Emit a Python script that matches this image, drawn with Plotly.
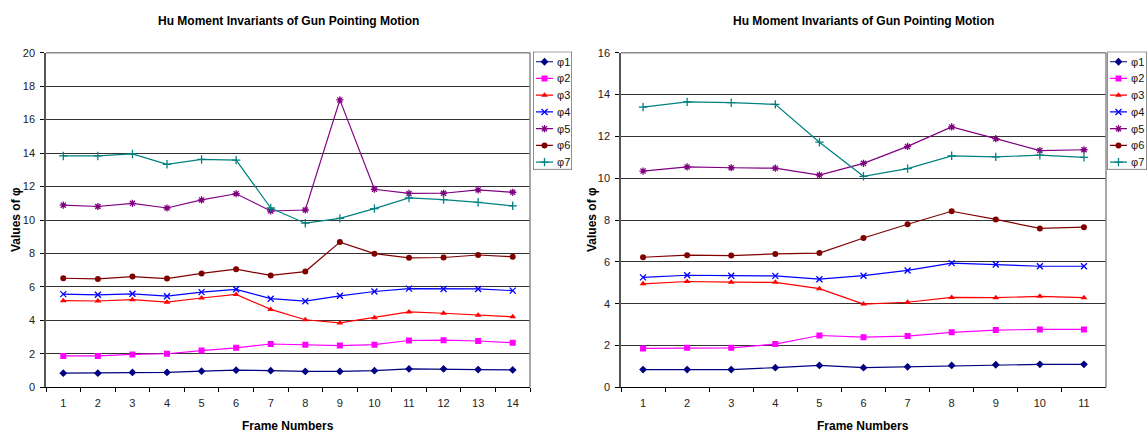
import plotly.graph_objects as go

W, H = 1148, 442

# Frame labels for the two recordings
frames_a = [str(i) for i in range(1, 15)]
frames_b = [str(i) for i in range(1, 12)]

# Hu moment invariants, first recording (14 frames)
phi1_a = [0.85, 0.85, 0.89, 0.89, 0.97, 1.03, 1.00, 0.95, 0.95, 1.00, 1.10, 1.10, 1.06, 1.04]
phi2_a = [1.88, 1.88, 1.97, 2.01, 2.20, 2.36, 2.59, 2.55, 2.50, 2.55, 2.80, 2.82, 2.77, 2.67]
phi3_a = [5.18, 5.16, 5.24, 5.09, 5.34, 5.55, 4.66, 4.04, 3.85, 4.16, 4.51, 4.43, 4.31, 4.22]
phi4_a = [5.57, 5.53, 5.59, 5.45, 5.69, 5.86, 5.30, 5.15, 5.47, 5.73, 5.90, 5.88, 5.88, 5.78]
phi5_a = [10.89, 10.81, 11.00, 10.72, 11.20, 11.57, 10.54, 10.60, 17.18, 11.84, 11.59, 11.60, 11.80, 11.66]
phi6_a = [6.52, 6.48, 6.62, 6.50, 6.81, 7.06, 6.69, 6.92, 8.68, 7.99, 7.74, 7.76, 7.91, 7.81]
phi7_a = [13.83, 13.83, 13.95, 13.33, 13.62, 13.58, 10.72, 9.81, 10.10, 10.68, 11.32, 11.22, 11.06, 10.85]

# Hu moment invariants, second recording (11 frames)
phi1_b = [0.85, 0.85, 0.85, 0.94, 1.05, 0.94, 0.98, 1.05, 1.08, 1.10, 1.10]
phi2_b = [1.86, 1.89, 1.89, 2.07, 2.48, 2.40, 2.45, 2.63, 2.74, 2.77, 2.77]
phi3_b = [4.95, 5.06, 5.03, 5.02, 4.72, 3.98, 4.07, 4.30, 4.29, 4.35, 4.29]
phi4_b = [5.26, 5.36, 5.34, 5.33, 5.17, 5.34, 5.59, 5.94, 5.87, 5.79, 5.79]
phi5_b = [10.34, 10.54, 10.50, 10.48, 10.15, 10.71, 11.52, 12.45, 11.89, 11.32, 11.36]
phi6_b = [6.22, 6.32, 6.30, 6.38, 6.42, 7.14, 7.80, 8.42, 8.03, 7.60, 7.66]
phi7_b = [13.40, 13.65, 13.61, 13.53, 11.72, 10.09, 10.46, 11.07, 11.02, 11.10, 11.00]

series_names = ["φ1", "φ2", "φ3", "φ4", "φ5", "φ6", "φ7"]
series_colors = ["#000080", "#FF00FF", "#FF0000", "#0000FF", "#800080", "#800000", "#008080"]
series_symbols = ["diamond", "square", "triangle-up", "x-thin", "asterisk-open", "circle", "cross-thin"]
series_sizes = [6, 6, 6, 6, 6, 6, 6]

data_a = [phi1_a, phi2_a, phi3_a, phi4_a, phi5_a, phi6_a, phi7_a]
data_b = [phi1_b, phi2_b, phi3_b, phi4_b, phi5_b, phi6_b, phi7_b]

FONT = "Arial, 'Liberation Sans', sans-serif"


def marker_style(k):
    sym = series_symbols[k]
    col = series_colors[k]
    open_sym = sym in ("x-thin", "asterisk-open", "cross-thin")
    return dict(symbol=sym, size=series_sizes[k], color=col,
                line=dict(color=col, width=1.3 if open_sym else 0))


fig = go.Figure()

# Data series on both panels
for k in range(7):
    fig.add_trace(go.Scatter(x=frames_a, y=data_a[k], name=series_names[k], mode="lines+markers",
                             line=dict(color=series_colors[k], width=1.2), marker=marker_style(k),
                             xaxis="x", yaxis="y", showlegend=False))
    fig.add_trace(go.Scatter(x=frames_b, y=data_b[k], name=series_names[k], mode="lines+markers",
                             line=dict(color=series_colors[k], width=1.2), marker=marker_style(k),
                             xaxis="x2", yaxis="y2", showlegend=False))

# Legend boxes, drawn in small pixel-scaled overlay axes
legend_boxes = [("x3", "y3", 533, 572), ("x4", "y4", 1107, 1147)]
for xr, yr, bx0, bx1 in legend_boxes:
    for k in range(7):
        yy = 57.3 + 17.2 * k
        fig.add_trace(go.Scatter(x=[bx0 + 3, bx0 + 20], y=[yy, yy], mode="lines",
                                 line=dict(color=series_colors[k], width=1.2),
                                 xaxis=xr, yaxis=yr, showlegend=False, hoverinfo="skip"))
        fig.add_trace(go.Scatter(x=[bx0 + 11.5], y=[yy], mode="markers", marker=marker_style(k),
                                 xaxis=xr, yaxis=yr, showlegend=False, hoverinfo="skip"))
        fig.add_annotation(x=bx0 + 21.5, y=yy, xref=xr, yref=yr, text=series_names[k],
                           showarrow=False, xanchor="left", yanchor="middle",
                           font=dict(family=FONT, size=11, color="#111"))
    fig.add_shape(type="rect", xref=xr, yref=yr, x0=bx0, x1=bx1, y0=47, y1=168,
                  line=dict(color="#222", width=1), fillcolor="rgba(0,0,0,0)", layer="below")

plot_top, plot_bot = 48, 392
ydom = [(H - plot_bot) / H, (H - plot_top) / H]


def xaxis_cfg(x0, x1, n, anchor):
    return dict(domain=[x0 / W, x1 / W], type="category", range=[-0.5, n - 0.5],
                tickson="boundaries", ticks="outside", ticklen=4, tickcolor="#000",
                showline=True, linecolor="#000", linewidth=1, showgrid=False,
                ticklabelstandoff=5,
                tickfont=dict(family=FONT, size=11, color="#222"), anchor=anchor,
                fixedrange=True)


def yaxis_cfg(top, anchor):
    return dict(domain=ydom, range=[0, top], dtick=2, ticks="outside", ticklen=4,
                tickcolor="#000", showline=True, linecolor="#555", linewidth=1.5,
                showgrid=True, gridcolor="#333", gridwidth=1.2, zeroline=False,
                ticklabelstandoff=3,
                tickfont=dict(family=FONT, size=11, color="#222"), anchor=anchor,
                fixedrange=True)


def legend_axes(x0, x1):
    xa = dict(domain=[x0 / W, x1 / W], range=[x0, x1], visible=False, fixedrange=True)
    ya = dict(domain=[(H - 168) / H, (H - 47) / H], range=[168, 47], visible=False, fixedrange=True)
    return xa, ya


xa3, ya3 = legend_axes(533, 572)
xa4, ya4 = legend_axes(1107, 1147)
xa3["anchor"], ya3["anchor"] = "y3", "x3"
xa4["anchor"], ya4["anchor"] = "y4", "x4"

fig.update_layout(
    width=W, height=H, margin=dict(l=0, r=0, t=0, b=0),
    paper_bgcolor="white", plot_bgcolor="white",
    font=dict(family=FONT, color="#111"),
    xaxis=xaxis_cfg(46, 530, 14, "y"),
    yaxis=yaxis_cfg(20, "x"),
    xaxis2=xaxis_cfg(621, 1106, 11, "y2"),
    yaxis2=yaxis_cfg(16, "x2"),
    xaxis3=xa3, yaxis3=ya3, xaxis4=xa4, yaxis4=ya4,
)

# Grey plot-area frame (top and right edges)
for xr, yr in (("x domain", "y domain"), ("x2 domain", "y2 domain")):
    fig.add_shape(type="line", xref=xr, yref=yr, x0=0, x1=1, y0=1, y1=1,
                  line=dict(color="#8a8a8a", width=1.5))
    fig.add_shape(type="line", xref=xr, yref=yr, x0=1, x1=1, y0=0, y1=1,
                  line=dict(color="#8a8a8a", width=1.5))

title = "Hu Moment Invariants of Gun Pointing Motion"
bold = dict(family=FONT, size=12, color="#000")
mid_y = (H - (plot_top + plot_bot) / 2) / H
for cx, ylab_x in ((288, 16), (863, 592)):
    fig.add_annotation(x=cx / W, y=(H - 15) / H, xref="paper", yref="paper", text=f"<b>{title}</b>",
                       showarrow=False, xanchor="center", yanchor="middle", font=bold)
    fig.add_annotation(x=cx / W, y=(H - 432) / H, xref="paper", yref="paper", text="<b>Frame Numbers</b>",
                       showarrow=False, xanchor="center", yanchor="middle", font=bold)
    fig.add_annotation(x=ylab_x / W, y=mid_y, xref="paper", yref="paper", text="<b>Values of φ</b>",
                       showarrow=False, xanchor="center", yanchor="middle", textangle=-90, font=bold)

fig.write_html("out.html")
